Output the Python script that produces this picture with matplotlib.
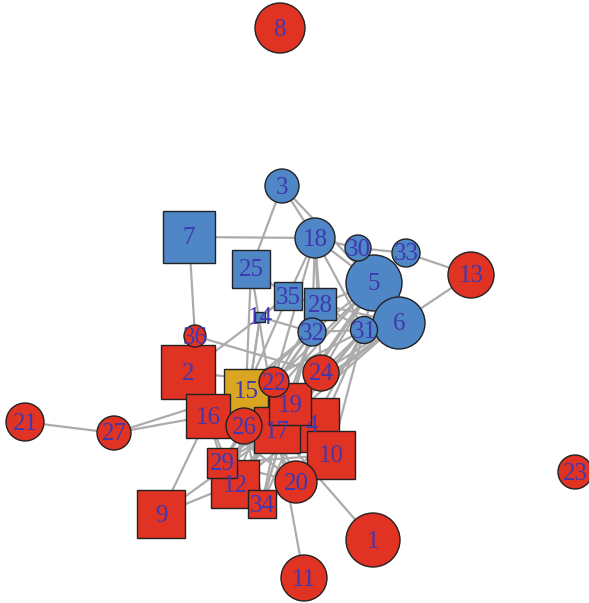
import matplotlib
matplotlib.use("Agg")
import matplotlib.pyplot as plt
from matplotlib.patches import Circle, Rectangle

W, H = 589, 603

# Vertex ids 1..36 with layout positions (x right, y down)
node_ids = list(range(1, 37))
node_x = [373, 188, 282, 312, 374, 399, 189, 280, 161, 331,
          304, 235, 471, 260, 246, 208, 277, 315, 290, 296,
          25, 274, 575, 321, 251, 244, 114, 320, 222, 358,
          364, 312, 406, 262, 288, 195]
node_y = [540, 372, 186, 425, 283, 323, 237, 28, 514, 455,
          578, 484, 275, 317, 391, 416, 430, 238, 404, 482,
          422, 382, 472, 373, 269, 426, 433, 304, 463, 248,
          330, 332, 253, 504, 296, 336]
# Vertex size (radius for circles, half side for squares)
node_size = [27, 27, 17, 27, 28, 26, 26, 25, 24, 24,
             23, 24, 23, 5, 22, 22, 23, 20, 21, 21,
             19, 15, 17, 18, 19, 18, 17, 16, 15, 13,
             13.5, 14, 14, 14, 14, 11]
node_shape = ["circle", "square", "circle", "square", "circle", "circle", "square", "circle", "square", "square",
              "circle", "square", "circle", "square", "square", "square", "square", "circle", "square", "circle",
              "circle", "circle", "circle", "circle", "square", "circle", "circle", "square", "square", "circle",
              "circle", "circle", "circle", "square", "square", "circle"]
node_group = ["r", "r", "b", "r", "b", "b", "b", "r", "r", "r",
              "r", "r", "r", "b", "g", "r", "r", "b", "r", "r",
              "r", "r", "r", "r", "b", "r", "r", "b", "r", "b",
              "b", "b", "b", "r", "b", "r"]
group_color = {"r": "#E03323", "b": "#4F86C5", "g": "#DAA520"}

edges = [
    (21, 27), (27, 16), (27, 15), (7, 18), (7, 36), (3, 18), (3, 25), (3, 5),
    (18, 30), (18, 5), (18, 28), (18, 32), (18, 31), (18, 35), (18, 24),
    (30, 33), (30, 5), (33, 13), (13, 6), (5, 31), (5, 32), (5, 28), (5, 24),
    (5, 17), (5, 22), (6, 31), (6, 28), (6, 19), (31, 32), (31, 28), (31, 10),
    (31, 20), (31, 17), (31, 24), (31, 15), (31, 12), (32, 28), (32, 17),
    (32, 15), (32, 29), (32, 26), (32, 34), (28, 35), (28, 19), (28, 22),
    (35, 25), (35, 14), (35, 2), (35, 15), (14, 32), (14, 26), (14, 12),
    (25, 15), (25, 17), (36, 24), (2, 22), (2, 16), (2, 26), (16, 29),
    (16, 12), (16, 17), (16, 20), (16, 4), (16, 32), (9, 16), (9, 12),
    (9, 17), (1, 17), (11, 17), (20, 17), (20, 29), (20, 34), (10, 17),
    (10, 29), (4, 12), (4, 31), (24, 29), (24, 34), (22, 12), (19, 29),
    (19, 12), (26, 29), (26, 34), (15, 12), (15, 34), (15, 20), (17, 29),
    (17, 12), (17, 34), (12, 29), (28, 34), (5, 12), (6, 24), (6, 17),
    (18, 22), (5, 26), (6, 29),
]

fig = plt.figure(figsize=(W / 100, H / 100), dpi=100)
ax = fig.add_axes([0, 0, 1, 1])
ax.set_xlim(0, W)
ax.set_ylim(H, 0)
ax.set_aspect("equal")
ax.axis("off")

pos = {n: (x, y) for n, x, y in zip(node_ids, node_x, node_y)}

for a, b in edges:
    (x1, y1), (x2, y2) = pos[a], pos[b]
    ax.plot([x1, x2], [y1, y2], color="#ABABAB", lw=1.6, zorder=1,
            solid_capstyle="butt")

for i, n in enumerate(node_ids):
    x, y = pos[n]
    s = node_size[i]
    fc = group_color[node_group[i]]
    z = 2 + i * 0.01
    if node_shape[i] == "circle":
        p = Circle((x, y), s, facecolor=fc, edgecolor="#222222", lw=1.0, zorder=z)
    else:
        p = Rectangle((x - s, y - s), 2 * s, 2 * s, facecolor=fc,
                      edgecolor="#222222", lw=1.0, zorder=z)
    ax.add_patch(p)

for n in node_ids:
    x, y = pos[n]
    ax.text(x, y + 1.5, str(n), ha="center", va="center", fontsize=18,
            family="Liberation Serif", color="#4038B0", zorder=10)

fig.savefig("out.png", dpi=100)
